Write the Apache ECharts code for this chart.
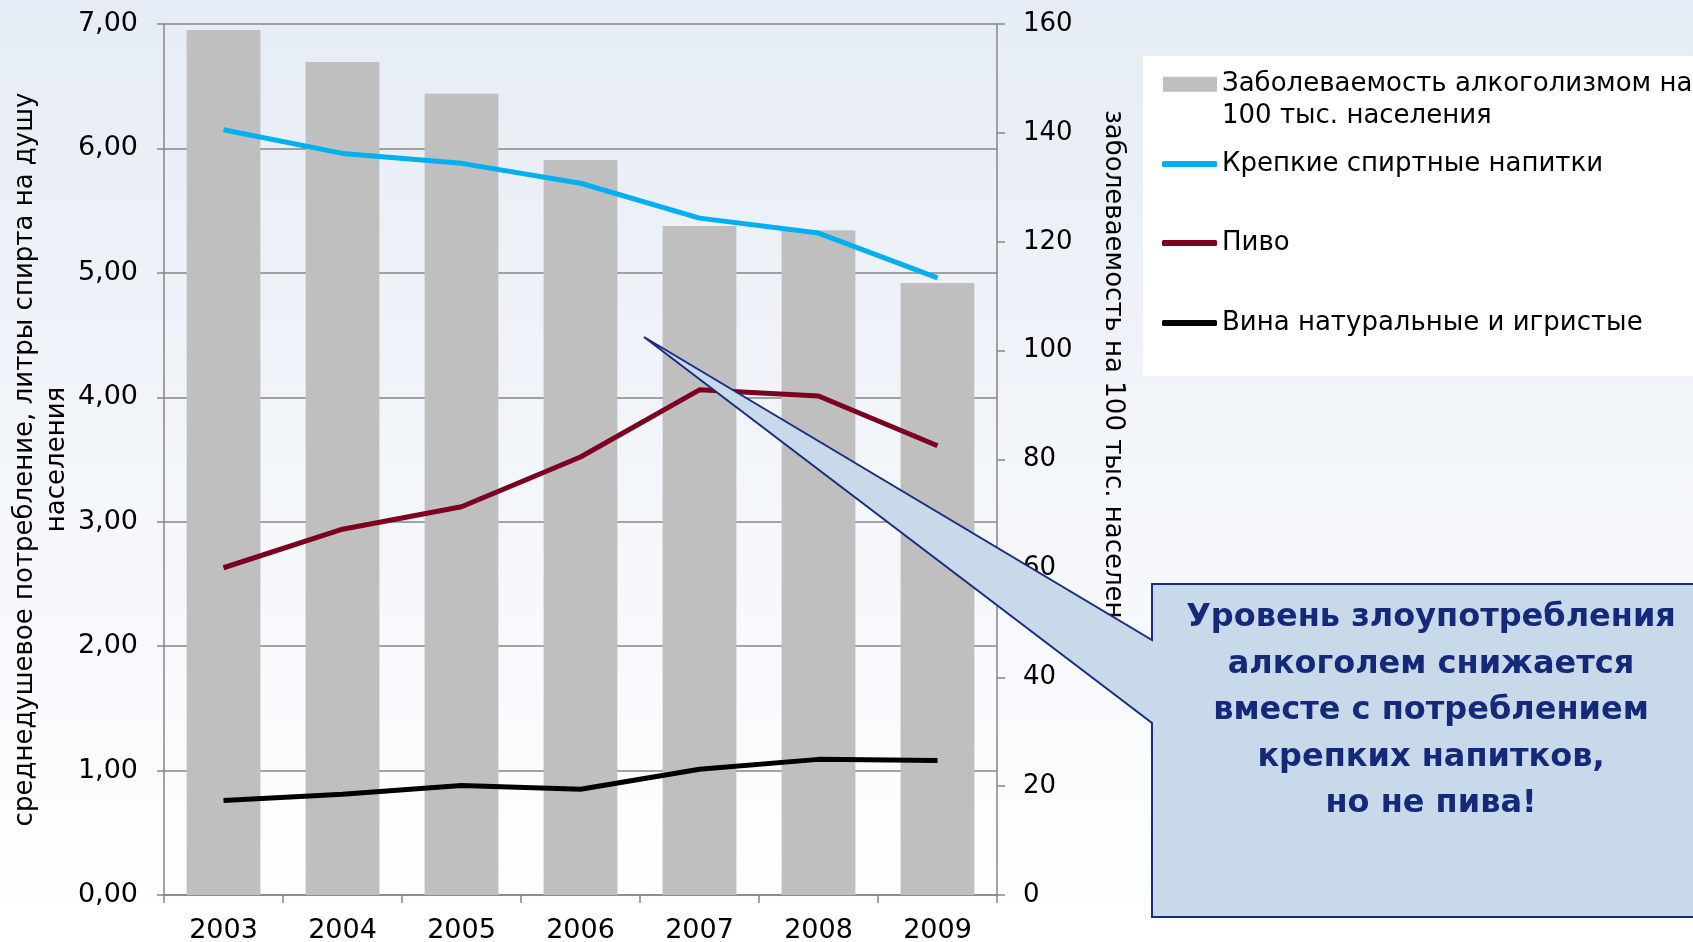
<!DOCTYPE html>
<html>
<head>
<meta charset="utf-8">
<script src="https://cdn.jsdelivr.net/npm/echarts@6/dist/echarts.min.js"></script>
<style>
html, body {margin: 0; padding: 0;}
#main {width: 1693px; height: 942px;}
</style>
</head>
<body>
<div id="main"></div>
<script>
// данные
var years = ['2003', '2004', '2005', '2006', '2007', '2008', '2009'];
var morbidity = [158.9, 153.0, 147.2, 135.0, 122.9, 122.1, 112.4];
var spirits = [6.15, 5.96, 5.88, 5.72, 5.44, 5.32, 4.96];
var beer = [2.63, 2.94, 3.12, 3.52, 4.06, 4.01, 3.61];
var wine = [0.76, 0.81, 0.88, 0.85, 1.01, 1.09, 1.08];
var names = ['Заболеваемость алкоголизмом на 100 тыс. населения', 'Крепкие спиртные напитки', 'Пиво', 'Вина натуральные и игристые'];
var colors = ['#BFBFBF', '#00B0F0', '#7E0021', '#000000'];

var font = '"DejaVu Sans", Verdana, sans-serif';
var gridColor = '#868686';

// одна строка легенды = отдельный компонент, чтобы поставить её точно
function legendItem(idx, top, isLine) {
    var item = {
        data: [{name: names[idx], icon: isLine ? 'roundRect' : 'rect', itemStyle: {color: colors[idx]}}],
        left: isLine ? 1162 : 1163,
        top: top,
        padding: 0,
        itemWidth: isLine ? 55 : 54,
        itemHeight: isLine ? 6 : 15,
        selectedMode: false,
        textStyle: {fontFamily: font, fontSize: 26, lineHeight: isLine ? 31 : 31.5, color: '#000'}
    };
    if (idx === 0) {
        // перенос строки, первая строка на уровне значка
        item.formatter = function () { return ' \nЗаболеваемость алкоголизмом на\n100 тыс. населения'; };
    }
    return item;
}

var myChart = echarts.init(document.getElementById('main'));
myChart.setOption({
    animation: false,
    backgroundColor: new echarts.graphic.LinearGradient(0, 0, 0, 1, [
        {offset: 0, color: '#E6ECF5'},
        {offset: 1, color: '#FFFFFF'}
    ]),
    color: colors,
    grid: {left: 164, right: 696, top: 24, bottom: 47, outerBoundsMode: 'none'},
    legend: [
        legendItem(0, 37, false),
        legendItem(1, 148.5, true),
        legendItem(2, 227.5, true),
        legendItem(3, 307.5, true)
    ],
    xAxis: {
        type: 'category',
        data: years,
        boundaryGap: true,
        axisLine: {lineStyle: {color: gridColor, width: 1.5}},
        axisTick: {show: true, length: 8, interval: 0, lineStyle: {color: gridColor, width: 1.5}},
        axisLabel: {fontFamily: font, fontSize: 27, color: '#000', margin: 22, interval: 0}
    },
    yAxis: [{
        type: 'value',
        min: 0,
        max: 7,
        interval: 1,
        position: 'left',
        name: 'среднедушевое потребление, литры спирта на душу\nнаселения',
        nameLocation: 'middle',
        nameRotate: 90,
        nameGap: 91,
        nameTextStyle: {fontFamily: font, fontSize: 26, lineHeight: 32, color: '#000'},
        axisLine: {show: true, lineStyle: {color: gridColor, width: 1.5}},
        axisTick: {show: true, length: 7, lineStyle: {color: gridColor, width: 1.5}},
        axisLabel: {
            fontFamily: font, fontSize: 27, color: '#000', margin: 26,
            formatter: function (v) { return v.toFixed(2).replace('.', ','); }
        },
        splitLine: {show: true, lineStyle: {color: gridColor, width: 1.5}}
    }, {
        type: 'value',
        min: 0,
        max: 160,
        interval: 20,
        position: 'right',
        axisLine: {show: true, lineStyle: {color: gridColor, width: 1.5}},
        axisTick: {show: true, length: 8, lineStyle: {color: gridColor, width: 1.5}},
        axisLabel: {fontFamily: font, fontSize: 26, color: '#000', margin: 26},
        splitLine: {show: false}
    }],
    series: [{
        name: names[0],
        type: 'bar',
        yAxisIndex: 1,
        barWidth: '62%',
        data: morbidity,
        itemStyle: {color: colors[0]}
    }, {
        name: names[1],
        type: 'line',
        symbol: 'none',
        data: spirits,
        itemStyle: {color: colors[1]},
        lineStyle: {width: 5, color: colors[1]}
    }, {
        name: names[2],
        type: 'line',
        symbol: 'none',
        data: beer,
        itemStyle: {color: colors[2]},
        lineStyle: {width: 5, color: colors[2]}
    }, {
        name: names[3],
        type: 'line',
        symbol: 'none',
        data: wine,
        itemStyle: {color: colors[3]},
        lineStyle: {width: 5, color: colors[3]}
    }],
    graphic: [
        // белая подложка легенды
        {type: 'rect', z: 1, shape: {x: 1143, y: 56, width: 560, height: 320}, style: {fill: '#FFFFFF'}},
        // подпись правой оси
        {
            type: 'text', z: 2, x: 1113, y: 110, rotation: -Math.PI / 2,
            style: {text: 'заболеваемость на 100 тыс. населения', font: '26px ' + font, fill: '#000', align: 'left', verticalAlign: 'middle'}
        },
        // выноска
        {
            type: 'polygon', z: 20,
            shape: {points: [[1152, 584], [1720, 584], [1720, 917], [1152, 917], [1152, 723], [644, 337], [1152, 640]]},
            style: {fill: '#C8D9EA', stroke: '#1B2C82', lineWidth: 2}
        },
        {
            type: 'text', z: 21, x: 1431, y: 711,
            style: {
                text: 'Уровень злоупотребления\nалкоголем снижается\nвместе с потреблением\nкрепких напитков,\nно не пива!',
                font: 'bold 32px ' + font, lineHeight: 46.5, fill: '#15297A', align: 'center', verticalAlign: 'middle'
            }
        }
    ]
});
</script>
</body>
</html>
